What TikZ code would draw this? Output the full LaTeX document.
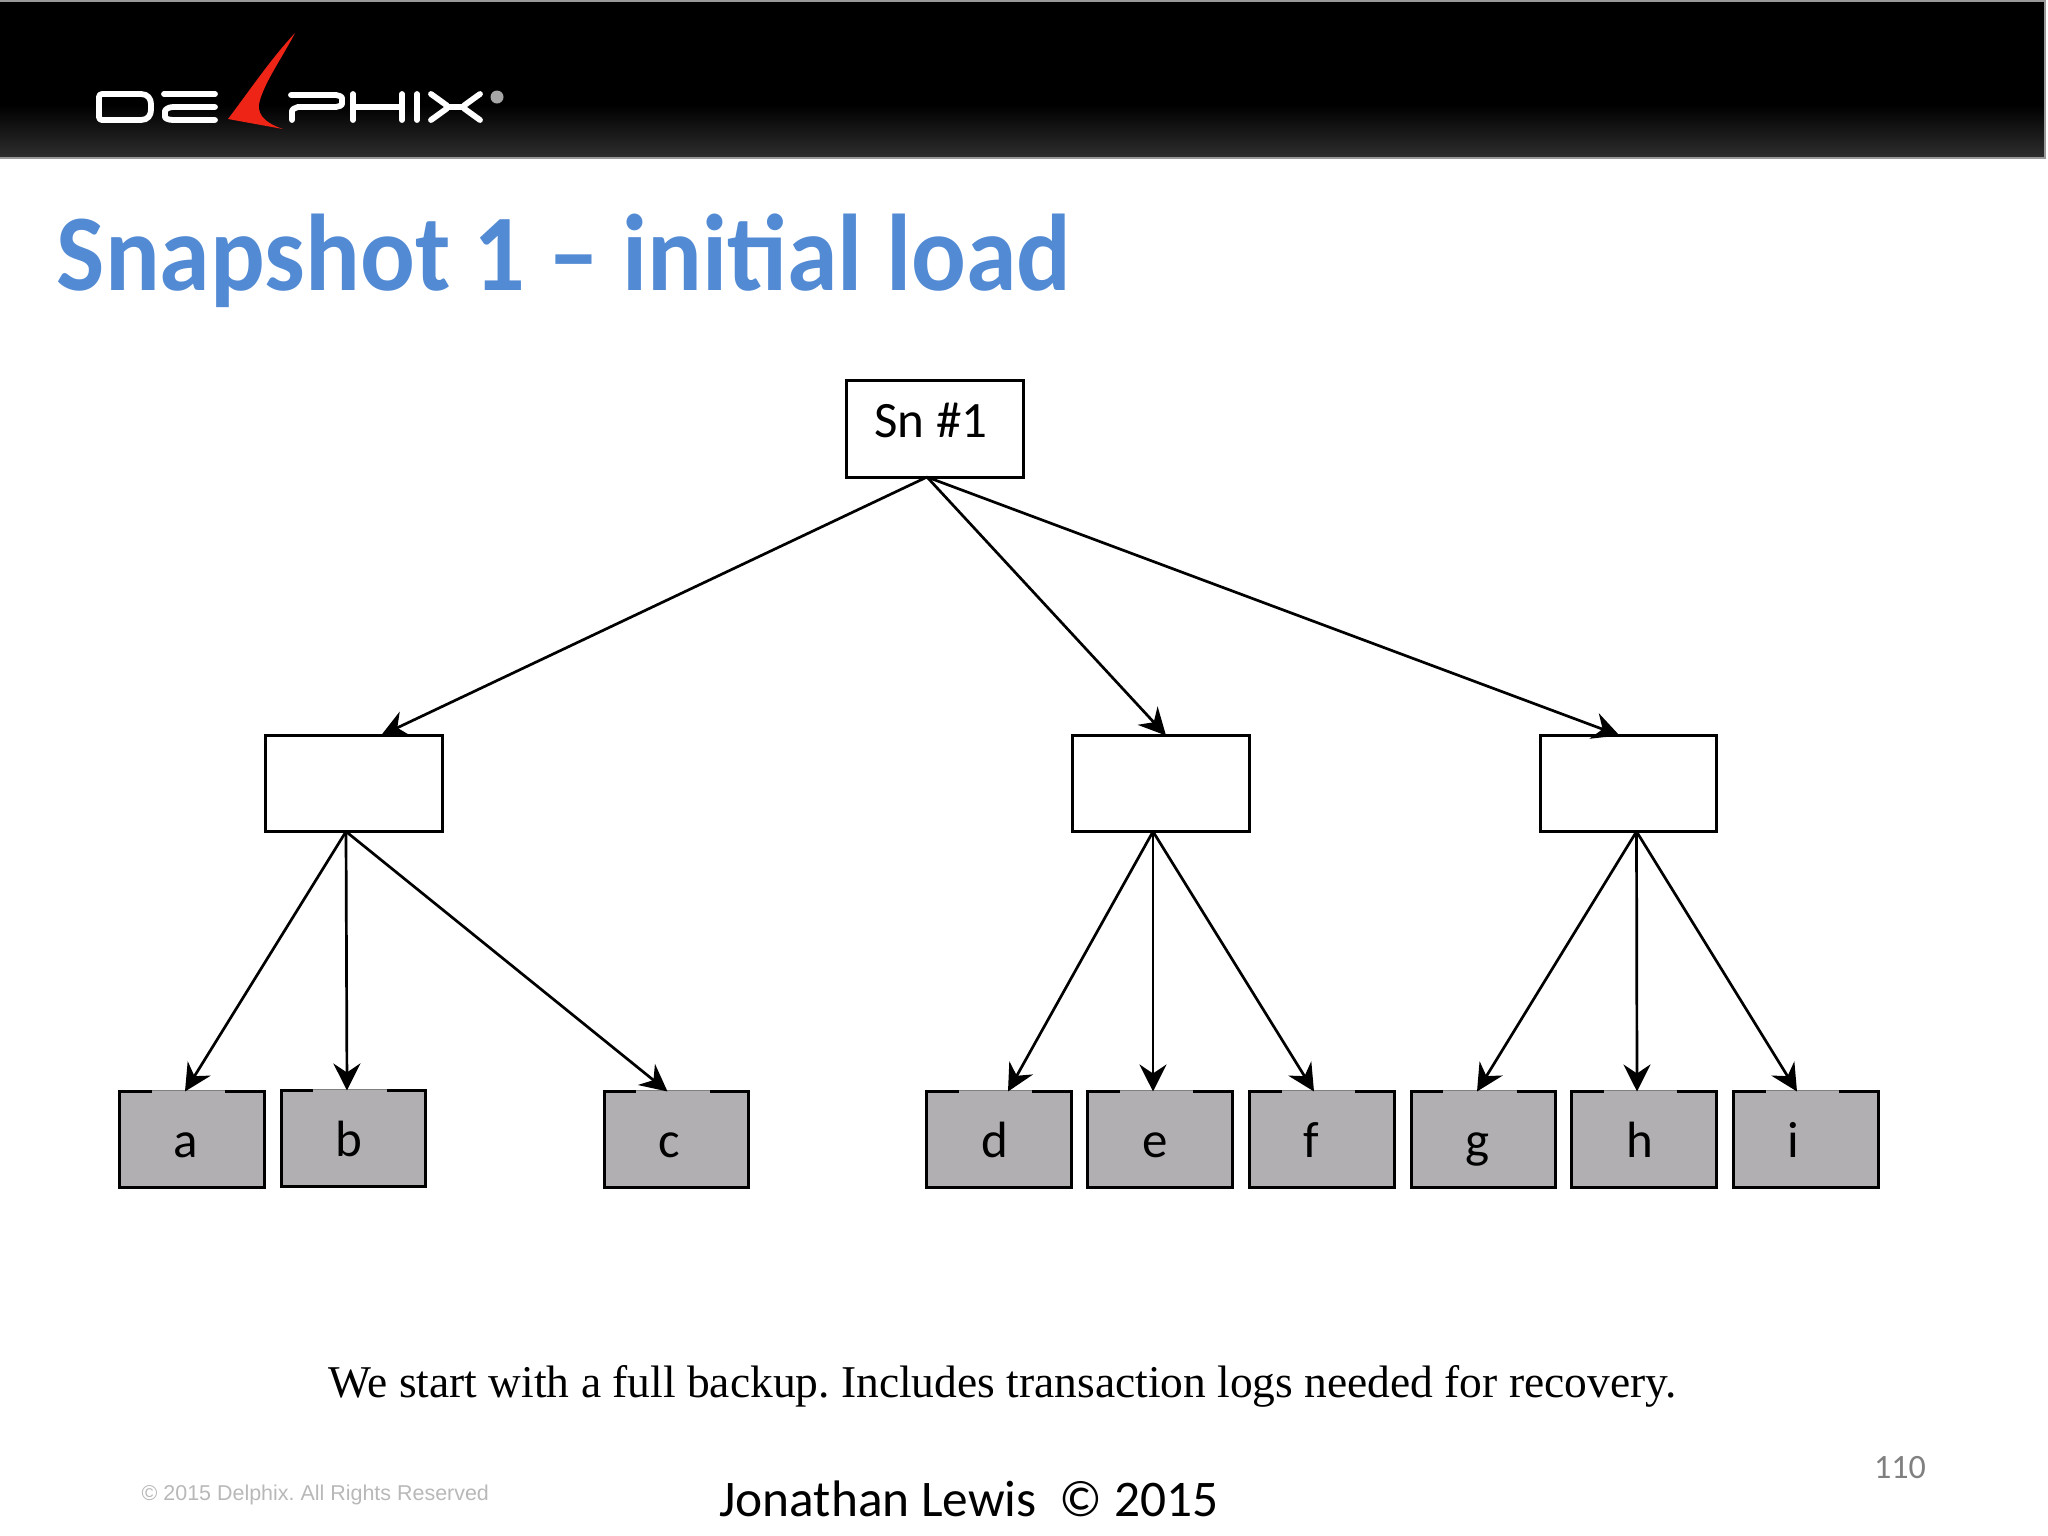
\documentclass[tikz,border=0pt]{standalone}
\usepackage{fontspec}
\setmainfont{Carlito}
\newfontfamily\titlefont[FakeStretch=0.937]{Carlito}
\newfontfamily\captionfont{Liberation Serif}
\newfontfamily\footerfont{Liberation Sans}
\usetikzlibrary{arrows.meta}
\definecolor{titleblue}{HTML}{528AD4}
\definecolor{leafgray}{HTML}{B1AFB2}
\definecolor{swoosh}{HTML}{EE2417}
\frenchspacing
\tikzset{
  box/.style={draw=black,line width=0.03cm,outer sep=0,inner sep=0,minimum width=1.765cm,minimum height=0.96cm},
  leaf/.style={box,fill=leafgray,minimum width=1.44cm,minimum height=0.96cm},
  boxtext/.style={anchor=base,inner sep=0,font=\fontsize{14.5}{16}\selectfont},
  edge/.style={-{Stealth[length=0.27cm,width=0.27cm,inset=0.09cm]},line width=0.027cm},
  logoline/.style={draw=white,line width=0.058cm,line cap=round,line join=round,rounded corners=0.03cm}
}
\begin{document}
\begin{tikzpicture}[x=0.01cm,y=-0.01cm]
\useasboundingbox (0,0) rectangle (2048,1536);
% header band
\fill[black] (0,0) rectangle (2045,106);
\shade[top color=black,bottom color=black!82!white] (0,105) rectangle (2045,157);
\draw[gray!80,line width=0.025cm] (0,1) -- (2045,1) -- (2045,158) -- (0,158);
% logo
\draw[logoline] (99,94) -- (138,94) .. controls (148,94) and (151,99) .. (151,107) .. controls (151,115) and (148,120) .. (138,120) -- (99,120) -- cycle;
\draw[logoline] (164,94) -- (215,94);
\draw[logoline] (215,107) -- (176,107) .. controls (168,107) and (165,110) .. (165,114) .. controls (165,118) and (168,120) .. (176,120) -- (215,120);
\draw[logoline] (292,120) -- (292,114) .. controls (292,110) and (295,107) .. (301,107) -- (333,107) .. controls (339,107) and (342,105) .. (342,101) .. controls (342,97) and (339,95) .. (333,95) -- (291,95);
\draw[logoline] (353,94) -- (353,120);
\draw[logoline] (402,94) -- (402,120);
\draw[logoline] (353,107) -- (402,107);
\draw[logoline] (417,94) -- (417,120);
\draw[logoline] (431,94) -- (449,107) -- (431,120);
\draw[logoline] (480,94) -- (462,107) -- (480,120);
\draw[logoline] (449,107) -- (462,107);
\fill[gray!70] (497,97) circle (0.065cm);
\fill[swoosh] (295,33) .. controls (270,60) and (250,90) .. (228,119) -- (283,129) .. controls (262,122) and (256,112) .. (260,100) .. controls (266,80) and (282,58) .. (295,33) -- cycle;
% title
\node (title) at (56,290) [anchor=base west,inner sep=0,text=titleblue,font=\titlefont\fontsize{31}{36}\selectfont\bfseries] {Snapshot 1 – initial load};
% boxes
\node[box] (root) at (935,429) {};
\node[box] (left) at (354,783.5) {};
\node[box] (mid) at (1161,783.5) {};
\node[box] (right) at (1628.5,783.5) {};
\node[leaf] (a) at (192,1139.5) {};
\node[leaf] (b) at (353.5,1138.5) {};
\node[leaf] (c) at (676.5,1139.5) {};
\node[leaf] (d) at (999,1139.5) {};
\node[leaf] (e) at (1160,1139.5) {};
\node[leaf] (f) at (1322,1139.5) {};
\node[leaf] (g) at (1483.5,1139.5) {};
\node[leaf] (h) at (1644,1139.5) {};
\node[leaf] (i) at (1806,1139.5) {};
% thin part of the top edges
\foreach \name in {a,b,c,d,e,f,g,h,i} {
  \draw[leafgray,line width=0.03cm] ([xshift=0.32cm]\name.north west) -- ([xshift=1.05cm]\name.north west);
  \draw[gray,line width=0.01cm] ([xshift=0.32cm,yshift=0.01cm]\name.north west) -- ([xshift=1.05cm,yshift=0.01cm]\name.north west);
}
% box texts
\node[boxtext] (roottext) at (931,437) {Sn \#1};
\node[boxtext] (atext) at (186,1157) {a};
\node[boxtext] (btext) at (349,1156) {b};
\node[boxtext] (ctext) at (669,1157) {c};
\node[boxtext] (dtext) at (995,1157) {d};
\node[boxtext] (etext) at (1155,1157) {e};
\node[boxtext] (ftext) at (1311,1157) {f};
\node[boxtext] (gtext) at (1477,1157) {g};
\node[boxtext] (htext) at (1640,1157) {h};
\node[boxtext] (itext) at (1793,1157) {i};
% connectors
\foreach \from/\dfrom/\to/\dto in {root/-0.08/left/0.27,root/-0.08/mid/0.05,root/-0.08/right/-0.09,
  left/-0.08/a/-0.07,left/-0.08/b/-0.065,left/-0.08/c/-0.09,
  mid/-0.08/d/0.09,mid/-0.08/e/-0.07,mid/-0.08/f/-0.08,
  right/0.08/g/-0.065,right/0.08/h/-0.07,right/0.08/i/-0.09}
  \draw[edge] ([xshift=\dfrom cm]\from.south) -- ([xshift=\dto cm]\to.north);
% bottom texts
\node (note) at (1002.5,1397) [anchor=base,inner sep=0,font=\captionfont\fontsize{12.93}{16}\selectfont] {We start with a full backup. Includes transaction logs needed for recovery.};
\node (rights) at (141,1500) [anchor=base west,inner sep=0,text=black!28,font=\footerfont\fontsize{6.1}{8}\selectfont] {© 2015 Delphix. All Rights Reserved};
\node (owner) at (969,1516) [anchor=base,inner sep=0,font=\fontsize{14.6}{16}\selectfont] {Jonathan Lewis\ \ © 2015};
\node (page) at (1900,1478) [anchor=base,inner sep=0,text=black!50,font=\fontsize{9.7}{11}\selectfont] {110};
\end{tikzpicture}
\end{document}
